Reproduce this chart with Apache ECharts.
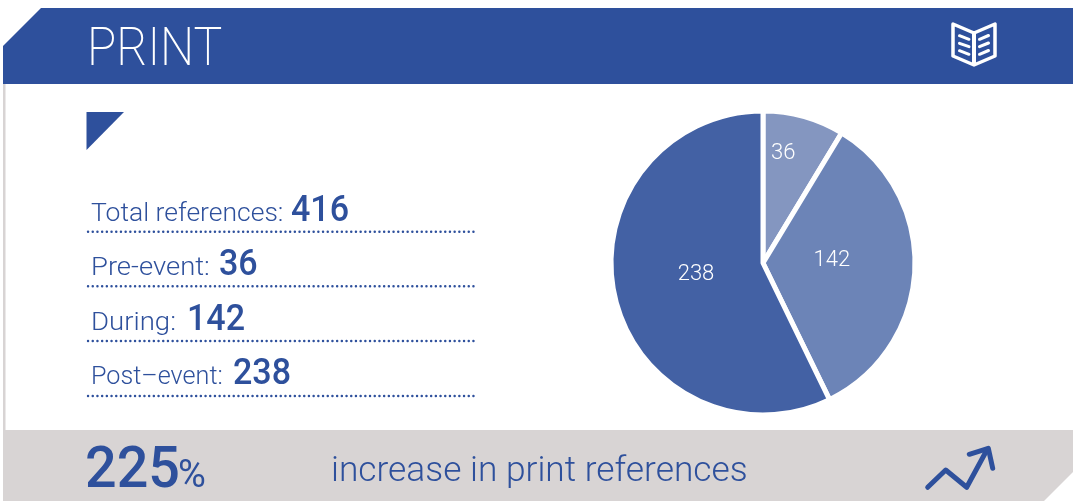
<!DOCTYPE html>
<html>
<head>
<meta charset="utf-8">
<style>
  html, body { margin: 0; padding: 0; background: #fff; }
  #chart { width: 1073px; height: 501px; }
</style>
<script src="https://cdn.jsdelivr.net/npm/echarts@6/dist/echarts.min.js"></script>
</head>
<body>
<div id="chart"></div>
<script>
// Reference counts by period
const categories = ['Pre-event', 'During', 'Post\u2013event'];
const references = [36, 142, 238];
const totalReferences = 416;
const increasePercent = 225;
const sliceColors = ['#8496C0', '#6C84B7', '#4361A4'];

const BLUE = '#2E509C';
const GREY = '#D8D4D4';
const FONT = 'Roboto';

// Text placed by its baseline; narrow squeezes the glyphs horizontally
function text(x, base, str, size, weight, fill, narrow) {
  return {
    type: 'text', x: x, y: base - 0.27 * size,
    scaleX: narrow || 1,
    style: { text: str, font: weight + ' ' + size + 'px ' + FONT, fill: fill || BLUE,
             align: 'left', verticalAlign: 'middle' }
  };
}
function stroke(points, width, color, closed) {
  return {
    type: closed ? 'polygon' : 'polyline',
    shape: { points: points },
    style: { fill: null, stroke: color, lineWidth: width, lineCap: 'round', lineJoin: 'round' }
  };
}
function filled(points, color) {
  return { type: 'polygon', shape: { points: points }, style: { fill: color } };
}

// Panel furniture: header band, side rule, footer band
const panel = [
  filled([[3, 46], [41, 8], [1073, 8], [1073, 84], [3, 84]], BLUE),
  { type: 'rect', shape: { x: 3, y: 84, width: 2.5, height: 346 }, style: { fill: GREY } },
  filled([[3, 430], [1073, 430], [1073, 472], [1044, 501], [3, 501]], GREY),
  filled([[86.5, 112], [124, 112], [86.5, 150]], BLUE),
  text(87, 66, 'PRINT', 53, 200, '#fff', 0.91)
];

// Open-book icon in the header
const bookIcon = [
  stroke([[953, 24], [974, 33], [995, 24], [995, 56], [974, 65], [953, 56]], 3.5, '#fff', true),
  stroke([[974, 33], [974, 64]], 4, '#fff'),
  stroke([[959.5, 35.7], [969, 39.3]], 3, '#fff'),
  stroke([[959.5, 43.3], [969, 46.7]], 3, '#fff'),
  stroke([[959.5, 50.7], [969, 54.3]], 3, '#fff'),
  stroke([[979.5, 39.3], [988.5, 35.5]], 3, '#fff'),
  stroke([[979.5, 46.7], [988.5, 43]], 3, '#fff'),
  stroke([[979.5, 54.3], [988.5, 50.5]], 3, '#fff')
];

// Trend arrow in the footer
const trendIcon = [
  stroke([[927.7, 487.3], [945.7, 470], [966.7, 487.3], [987.3, 449.3]], 5, BLUE),
  stroke([[969.3, 454.3], [988.3, 448.3], [992.7, 468.3]], 5, BLUE)
];

// Left-hand list with dotted rules
const rows = [
  { label: 'Total references:', value: totalReferences, valueX: 291, base: 221, rule: 231.7, fit: 1 },
  { label: categories[0] + ':', value: references[0], valueX: 219, base: 275, rule: 286.3, fit: 1.035 },
  { label: categories[1] + ':', value: references[1], valueX: 187, base: 330, rule: 341, fit: 1.04 },
  { label: categories[2] + ':', value: references[2], valueX: 233, base: 384, rule: 396, fit: 0.95 }
];
const list = [];
rows.forEach(function (r) {
  list.push(text(91, r.base + 1, r.label, 26.5, 300, BLUE, r.fit));
  list.push(text(r.valueX, r.base + 0.5, String(r.value), 37, 500, BLUE, 0.92));
  list.push({
    type: 'line',
    shape: { x1: 88, y1: r.rule, x2: 474, y2: r.rule },
    style: { stroke: BLUE, lineWidth: 2.4, lineDash: [0.1, 4.6], lineCap: 'round' }
  });
});

const footer = [
  text(85, 488, String(increasePercent), 58, 500, BLUE, 0.96),
  text(178, 488, '%', 38, 400),
  text(331, 482, 'increase in print references', 35.3, 300)
];

// Nudges that keep the slice labels clear of the slice edges
const labelShift = [[-1, -33], [-10, -6], [10, -6]];

const chart = echarts.init(document.getElementById('chart'), null, { renderer: 'canvas' });
chart.setOption({
  animation: false,
  graphic: { elements: panel.concat(bookIcon, trendIcon, list, footer) },
  series: [{
    type: 'pie',
    center: [763, 263],
    radius: [0, 152],
    startAngle: 90,
    clockwise: true,
    silent: true,
    avoidLabelOverlap: false,
    data: categories.map(function (name, i) {
      return { name: name, value: references[i], itemStyle: { color: sliceColors[i] } };
    }),
    itemStyle: { borderColor: '#fff', borderWidth: 5 },
    label: {
      show: true, position: 'inside', formatter: '{c}',
      color: '#fff', fontFamily: FONT, fontWeight: 300, fontSize: 22
    },
    labelLine: { show: false },
    labelLayout: function (params) {
      const s = labelShift[params.dataIndex];
      return { dx: s[0], dy: s[1] };
    }
  }]
});
</script>
</body>
</html>
